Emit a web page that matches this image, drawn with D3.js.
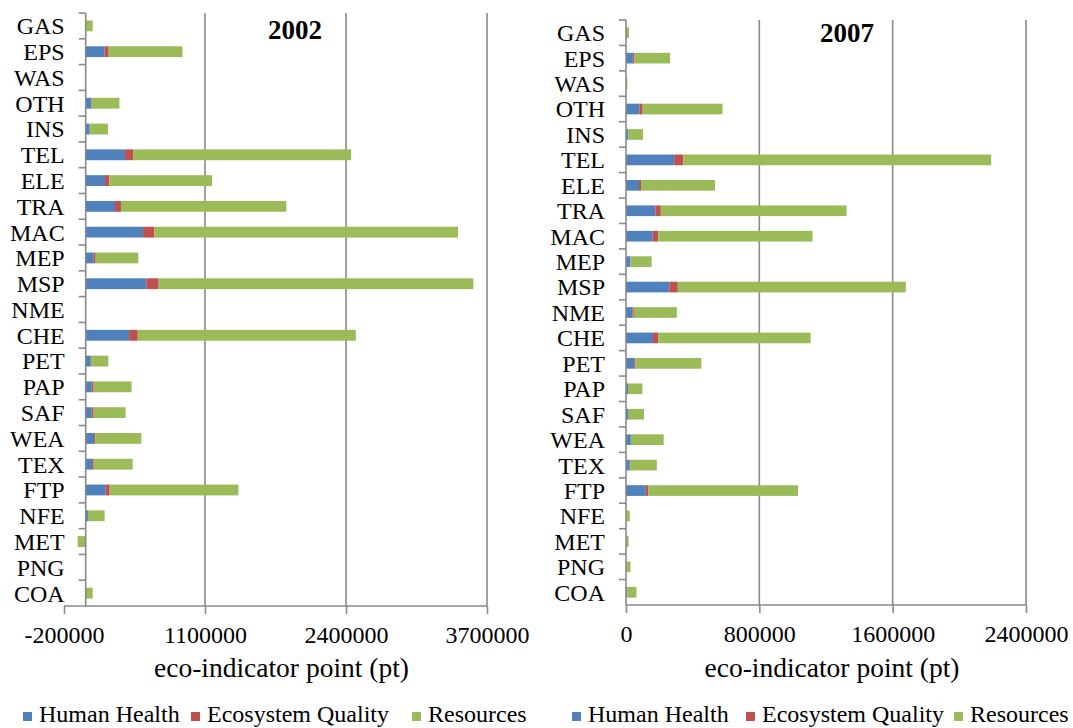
<!DOCTYPE html>
<html>
<head>
<meta charset="utf-8">
<script src="https://cdn.jsdelivr.net/npm/d3@7"></script>
<style>
  body { margin: 0; background: #fff; }
  text { font-family: "Liberation Serif", "Times New Roman", serif; fill: #000; }
</style>
</head>
<body>
<div id="app"></div>
<script>
// sectors, top to bottom as drawn
const sectors = ["GAS","EPS","WAS","OTH","INS","TEL","ELE","TRA","MAC","MEP","MSP","NME",
                 "CHE","PET","PAP","SAF","WEA","TEX","FTP","NFE","MET","PNG","COA"]
const seriesNames = ["Human Health","Ecosystem Quality","Resources"]
const colors = ["#4f81bd","#c0504d","#9bbb59"]

// 2002 (pt)
const hh2002  = [0,175000,0,52000,37000,363000,178000,270000,529000,74000,559000,0,
                 400000,46000,55000,55000,77000,58000,184000,21000,0,0,0]
const eq2002  = [0,37000,0,4000,0,74000,40000,55000,104000,18000,114000,0,
                 80000,3000,18000,18000,12000,15000,37000,0,0,0,0]
const res2002 = [65000,680000,0,255000,169000,2010000,947000,1524000,2800000,393000,2901000,0,
                 2010000,160000,350000,295000,424000,360000,1187000,154000,-74000,0,65000]
const ticks2002 = [-200000,1100000,2400000,3700000]

// 2007 (pt)
const hh2007  = [0,41000,0,80000,14000,289000,78000,176000,160000,27000,260000,39000,
                 162000,49000,12000,16000,29000,23000,119000,0,0,0,8000]
const eq2007  = [0,10000,0,20000,0,55000,12000,33000,33000,0,51000,8000,
                 33000,8000,0,0,0,0,14000,0,0,0,0]
const res2007 = [18000,213000,8000,479000,88000,1847000,444000,1114000,926000,127000,1368000,258000,
                 913000,395000,86000,92000,197000,162000,899000,23000,16000,27000,55000]
const ticks2007 = [0,800000,1600000,2400000]

const W = 1073, H = 728
const svg = d3.select("#app").append("svg")
    .attr("width", W).attr("height", H)

function panel(opt){
    const rows = sectors.map((s,i)=>({sector:s, hh:opt.hh[i], eq:opt.eq[i], res:opt.res[i]}))
    const stack = d3.stack().keys(["hh","eq","res"]).offset(d3.stackOffsetDiverging)(rows)

    const x = d3.scaleLinear().domain(d3.extent(opt.ticks)).range([opt.x0, opt.x1])
    const y = d3.scaleBand().domain(sectors).range([opt.top, opt.bottom])
        .paddingInner(0.58).paddingOuter(0.29)

    const g = svg.append("g")
    const gray = "#8a8a8a"

    // gridlines
    g.selectAll(".grid").data(opt.ticks.filter(t=>t>0))
        .enter().append("line")
        .attr("x1", d=>x(d)).attr("x2", d=>x(d))
        .attr("y1", opt.top).attr("y2", opt.bottom)
        .attr("stroke", gray).attr("stroke-width", 1.6)

    // bars
    g.selectAll(".series").data(stack).enter().append("g")
        .attr("fill", (d,i)=>colors[i])
        .selectAll("rect").data(d=>d).enter().append("rect")
        .attr("x", d=>x(Math.min(d[0],d[1])))
        .attr("width", d=>Math.abs(x(d[1])-x(d[0])))
        .attr("y", d=>y(d.data.sector))
        .attr("height", y.bandwidth())

    // x axis
    const xAxis = d3.axisBottom(x).tickValues(opt.ticks).tickSize(8).tickPadding(12)
        .tickFormat(d=>String(d))
    const ax = g.append("g").attr("transform", "translate(0," + opt.bottom + ")").call(xAxis)
    ax.select(".domain").attr("stroke", gray).attr("stroke-width", 1.6)
        .attr("d", "M" + opt.x0 + ",0H" + opt.x1)
    ax.selectAll(".tick line").attr("stroke", gray).attr("stroke-width", 1.6)
    ax.selectAll(".tick text").attr("font-size", 24)
        .style("font-family", "'Liberation Serif', serif").attr("fill", "#000")

    // y axis at zero
    const zx = x(0)
    g.append("line").attr("x1", zx).attr("x2", zx).attr("y1", opt.top).attr("y2", opt.bottom)
        .attr("stroke", gray).attr("stroke-width", 1.6)
    const step = y.step()
    g.selectAll(".ytick").data(d3.range(sectors.length))
        .enter().append("line")
        .attr("x1", zx-7).attr("x2", zx)
        .attr("y1", i=>opt.top + i*step).attr("y2", i=>opt.top + i*step)
        .attr("stroke", gray).attr("stroke-width", 1.6)
    g.selectAll(".ylab").data(sectors).enter().append("text")
        .attr("x", zx-21).attr("y", d=>y(d)+y.bandwidth()/2)
        .attr("dy", "0.35em").attr("text-anchor", "end")
        .attr("font-size", 24).text(d=>d)

    // title
    g.append("text").attr("x", opt.titleX).attr("y", opt.titleY)
        .attr("text-anchor", "middle").attr("font-size", 27).attr("font-weight", "bold")
        .text(opt.title)

    // axis title
    g.append("text").attr("x", (opt.x0+opt.x1)/2 + 6).attr("y", 677)
        .attr("text-anchor", "middle").attr("font-size", 27.5)
        .text("eco-indicator point (pt)")

    // legend
    const leg = g.append("g").attr("transform", "translate(" + opt.legX + ",0)")
    seriesNames.forEach((s,i)=>{
        leg.append("rect").attr("x", opt.legOffsets[i]).attr("y", 712).attr("width", 9).attr("height", 9)
            .attr("fill", colors[i])
        leg.append("text").attr("x", opt.legOffsets[i]+16).attr("y", 722)
            .attr("font-size", 24).text(s)
    })
}

panel({hh:hh2002, eq:eq2002, res:res2002, ticks:ticks2002,
       x0:64, x1:487, top:13, bottom:606, title:"2002", titleX:295, titleY:39,
       legX:23, legOffsets:[0,168,389]})
panel({hh:hh2007, eq:eq2007, res:res2007, ticks:ticks2007,
       x0:626, x1:1026, top:20, bottom:605, title:"2007", titleX:847, titleY:42,
       legX:572, legOffsets:[0,174,382]})
</script>
</body>
</html>
